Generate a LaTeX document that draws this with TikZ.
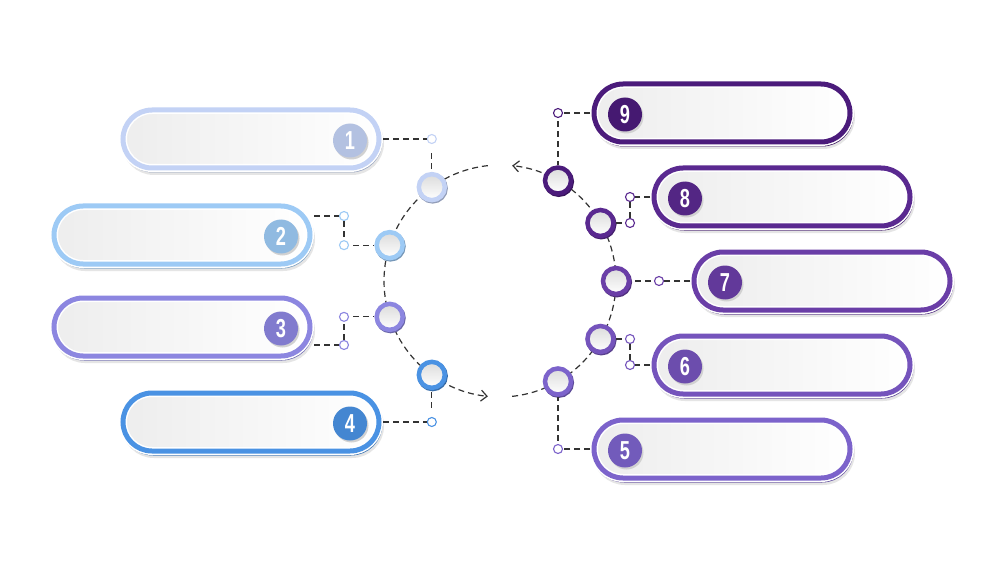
\documentclass[tikz,border=0pt]{standalone}
\usepackage{fontspec}
\newfontfamily\numfont[FakeStretch=0.7]{Liberation Sans}
\usetikzlibrary{positioning,arrows.meta,calc}
\definecolor{c1}{HTML}{C3D2F5}
\definecolor{c2}{HTML}{9DCAF5}
\definecolor{c3}{HTML}{8C86E0}
\definecolor{c4}{HTML}{4A92E3}
\definecolor{c5}{HTML}{7C63CB}
\definecolor{c6}{HTML}{7554BC}
\definecolor{c7}{HTML}{6A3EA7}
\definecolor{c8}{HTML}{5A2990}
\definecolor{c9}{HTML}{4B1B7B}
\definecolor{ink}{HTML}{333333}

\begin{document}
\begin{tikzpicture}[x=1pt, y=1pt, >={Straight Barb[length=6pt,width=11pt]},
    pill/.style={rectangle, rounded corners=29pt, minimum width=256pt, minimum height=58pt,
      draw=white, line width=8pt, left color=black!7, right color=white,
      preaction={draw=black!10, line width=6pt, transform canvas={shift={(2pt,-4pt)}}},
      preaction={draw=#1!78!black, line width=5pt, transform canvas={shift={(1pt,-2pt)}}},
      postaction={draw=#1, line width=5pt}},
    badge/.style={circle, fill=#1!92!black, minimum size=34pt, inner sep=0pt, text=white,
      font=\numfont\bfseries\fontsize{26pt}{26pt}\selectfont,
      preaction={fill=black!18, transform canvas={shift={(1.5pt,-2pt)}}}},
    ring/.style={circle, draw=#1, line width=4.5pt, minimum size=26pt, inner sep=0pt,
      top color=black!14, bottom color=white,
      preaction={draw=#1!75!black, line width=4.5pt, transform canvas={shift={(0.8pt,-1.2pt)}}}},
    dot/.style={circle, draw=#1, line width=1.1pt, fill=white, minimum size=9pt, inner sep=0pt},
    link/.style={draw=ink, line width=1.2pt, dash pattern=on 6pt off 4pt},
    flow/.style={link, ->}]
  \useasboundingbox[fill=white] (0,0) rectangle (1000,563);

  \coordinate (ctr) at (500,282);
  \draw[flow] ($(ctr)+(96:116)$) arc[start angle=96, end angle=264, radius=116];
  \draw[flow] ($(ctr)+(-84:116)$) arc[start angle=-84, end angle=84, radius=116];

  \foreach \n/\a in {1/126,2/162,3/198,4/234,5/-60,6/-30,7/0,8/30,9/60}
    \node[ring=c\n] (r\n) at ($(ctr)+(\a:116)$) {};

  \foreach \n/\px/\py in {1/251/424, 2/182/328, 3/182/236, 4/251/141} {
    \node[pill=c\n] (p\n) at (\px,\py) {};
    \node[badge=c\n] (b\n) at ([xshift=-33pt,yshift=-1.5pt]p\n.east) {\n};
  }
  \foreach \n/\px/\py in {5/722/114, 6/782/198, 7/822/282, 8/782/366, 9/722/450} {
    \node[pill=c\n] (p\n) at (\px,\py) {};
    \node[badge=c\n] (b\n) at ([xshift=35pt,yshift=-1.5pt]p\n.west) {\n};
  }

  \node[dot=c1] (d1) at (r1 |- p1) {};
  \node[dot=c2] (d2a) at (344,347) {};
  \node[dot=c2] (d2b) at (d2a |- r2) {};
  \node[dot=c3] (d3a) at (d2a |- r3) {};
  \node[dot=c3] (d3b) at (344,218) {};
  \node[dot=c4] (d4) at (r4 |- p4) {};
  \node[dot=c5] (d5) at (r5 |- p5) {};
  \node[dot=c6] (d6a) at (630,0 |- r6) {};
  \node[dot=c6] (d6b) at (d6a |- p6) {};
  \node[dot=c7] (d7) at (659,282) {};
  \node[dot=c8] (d8a) at (630,0 |- r8) {};
  \node[dot=c8] (d8b) at (d8a |- p8) {};
  \node[dot=c9] (d9) at (r9 |- p9) {};

  \draw[link, shorten <=9pt] (p1) -- (d1) -- (r1);
  \draw[link, shorten <=4pt] (p2.east |- d2a) -- (d2a) -- (d2b) -- (r2);
  \draw[link, shorten <=4pt] (p3.east |- d3b) -- (d3b) -- (d3a) -- (r3);
  \draw[link, shorten <=9pt] (p4) -- (d4) -- (r4);
  \draw[link, shorten <=3pt] (p5) -- (d5) -- (r5);
  \draw[link, shorten <=3pt] (p6) -- (d6b) -- (d6a) -- (r6);
  \draw[link, shorten <=3pt] (p7) -- (d7) -- (r7);
  \draw[link, shorten <=3pt] (p8) -- (d8b) -- (d8a) -- (r8);
  \draw[link, shorten <=3pt] (p9) -- (d9) -- (r9);
\end{tikzpicture}
\end{document}
